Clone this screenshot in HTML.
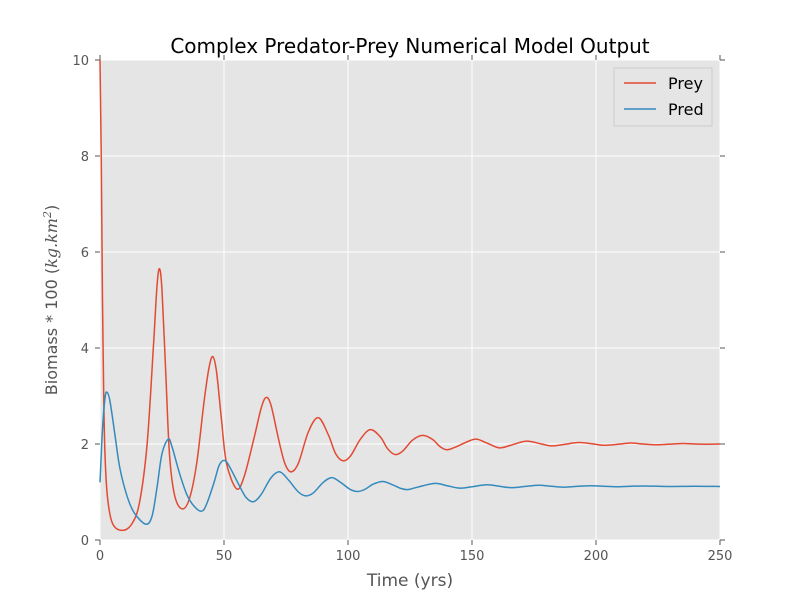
<!DOCTYPE html>
<html><head><meta charset="utf-8"><style>
html,body{margin:0;padding:0;background:#fff;}
svg text{font-family:"DejaVu Sans","Liberation Sans",sans-serif;}
</style></head><body>
<svg id="chart" width="800" height="600" viewBox="0 0 800 600" xmlns="http://www.w3.org/2000/svg">
<rect x="100" y="60" width="620" height="480" fill="#e5e5e5"/>
<g id="grid"></g>
<g id="ticks"></g>
<g id="series"></g>
<text x="410" y="53" text-anchor="middle" font-size="20" fill="#000">Complex Predator-Prey Numerical Model Output</text>
<text x="410" y="586" text-anchor="middle" font-size="17" fill="#555">Time (yrs)</text>
<text transform="translate(57,300) rotate(-90)" text-anchor="middle" font-size="16" fill="#555">Biomass * 100 (<tspan font-family="DejaVu Serif,serif" font-style="italic">kg.km</tspan><tspan font-family="DejaVu Serif,serif" font-style="italic" font-size="11" dy="-6">2</tspan><tspan dy="6">)</tspan></text>
<g>
<rect x="614" y="68" width="98" height="58" fill="#e5e5e5" stroke="#ccc" stroke-width="1"/>
<g><line x1="624" y1="83" x2="656" y2="83" stroke="#e24a33" stroke-width="1.5"/><text x="668" y="89" font-size="16" fill="#000">Prey</text></g>
<g><line x1="624" y1="109" x2="656" y2="109" stroke="#348abd" stroke-width="1.5"/><text x="668" y="115" font-size="16" fill="#000">Pred</text></g>
</g>
</svg>
<script>
const xTicks=[0,50,100,150,200,250];
const yTicks=[0,2,4,6,8,10];
const preyT=[0,0.5,1,1.5,2,3,5,9,13,16,19,21.5,23,24,25,26.5,28,30,33,36,39,42,44,45.5,47,49,51,55,58,62,65,67,69,72,74.5,77,80,84,88,92,95,98,101,105,109,113,116,119,122,126,130,134,137,140,144,151,156,161,166,172,178,182,187,193,199,203,208,214,219,224,229,235,240,245,250];
const preyV=[10,8,5,3,1.8,0.9,0.35,0.2,0.35,0.8,2,4,5.3,5.65,5.2,3.5,1.8,0.95,0.65,0.85,1.6,2.9,3.6,3.82,3.5,2.5,1.6,1.07,1.3,2.1,2.75,2.97,2.8,2.1,1.6,1.42,1.6,2.25,2.55,2.2,1.8,1.65,1.75,2.1,2.3,2.15,1.9,1.78,1.85,2.08,2.18,2.1,1.95,1.88,1.95,2.1,2.02,1.92,1.98,2.06,2.0,1.96,1.99,2.03,2.0,1.975,1.99,2.02,2.0,1.985,1.995,2.01,2.0,1.995,2.0];
const predT=[0,1,2,2.8,4,6,8,11,14,18.5,21,23,25,27.5,29,32,35,38,41,43,46,48,50,52,56,59,62,65,69,72.5,76,80,83,86,90,93.5,97,101,104,107,110,114,118,121,124,128,135,140,145,150,156,161,166,172,177,182,187,193,198,203,208,214,219,225,230,240,250];
const predV=[1.2,2.3,2.95,3.08,2.9,2.2,1.5,0.9,0.55,0.33,0.5,1.1,1.8,2.1,1.95,1.4,0.95,0.7,0.6,0.75,1.2,1.55,1.66,1.55,1.15,0.88,0.8,0.95,1.3,1.42,1.25,1.0,0.92,0.98,1.2,1.3,1.2,1.05,1.01,1.06,1.16,1.22,1.15,1.08,1.05,1.1,1.18,1.13,1.08,1.11,1.15,1.12,1.09,1.12,1.14,1.12,1.10,1.12,1.13,1.12,1.11,1.12,1.125,1.12,1.115,1.12,1.115];
const NS='http://www.w3.org/2000/svg';
const X=t=>100+t*620/250, Y=v=>540-v*48;
const grid=document.getElementById('grid'),ticks=document.getElementById('ticks'),series=document.getElementById('series');
function mk(tag,attrs,parent){const e=document.createElementNS(NS,tag);for(const k in attrs)e.setAttribute(k,attrs[k]);parent.appendChild(e);return e;}
xTicks.forEach(t=>{
  const g=mk('line',{x1:X(t),x2:X(t),y1:60,y2:540,stroke:'#fff','stroke-width':1},grid);
  
  
  mk('line',{x1:X(t),x2:X(t),y1:540,y2:545,stroke:'#555'},ticks);
  mk('line',{x1:X(t),x2:X(t),y1:55,y2:60,stroke:'#555'},ticks);
  const l=mk('text',{x:X(t),y:560,'text-anchor':'middle','font-size':13,fill:'#555'},ticks);
  l.textContent=t;
  
  
});
yTicks.forEach(v=>{
  const g=mk('line',{x1:100,x2:720,y1:Y(v),y2:Y(v),stroke:'#fff','stroke-width':1},grid);
  
  
  mk('line',{x1:95,x2:100,y1:Y(v),y2:Y(v),stroke:'#555'},ticks);
  mk('line',{x1:720,x2:725,y1:Y(v),y2:Y(v),stroke:'#555'},ticks);
  const l=mk('text',{x:89,y:Y(v)+5,'text-anchor':'end','font-size':13,fill:'#555'},ticks);
  l.textContent=v;
  
  
});
function pathD(ts,vs){
  const p=ts.map((t,i)=>[X(t),Y(vs[i])]);
  let d='M'+p[0][0]+','+p[0][1];
  for(let i=0;i<p.length-1;i++){
    const p0=p[Math.max(0,i-1)],p1=p[i],p2=p[i+1],p3=p[Math.min(p.length-1,i+2)];
    const c1=[p1[0]+(p2[0]-p0[0])/6,p1[1]+(p2[1]-p0[1])/6];
    const c2=[p2[0]-(p3[0]-p1[0])/6,p2[1]-(p3[1]-p1[1])/6];
    d+=' C'+c1[0]+','+c1[1]+' '+c2[0]+','+c2[1]+' '+p2[0]+','+p2[1];
  }
  return d;
}
const prey=mk('path',{d:pathD(preyT,preyV),fill:'none',stroke:'#e24a33','stroke-width':1.5},series);


const pred=mk('path',{d:pathD(predT,predV),fill:'none',stroke:'#348abd','stroke-width':1.5},series);


</script>
</body></html>
